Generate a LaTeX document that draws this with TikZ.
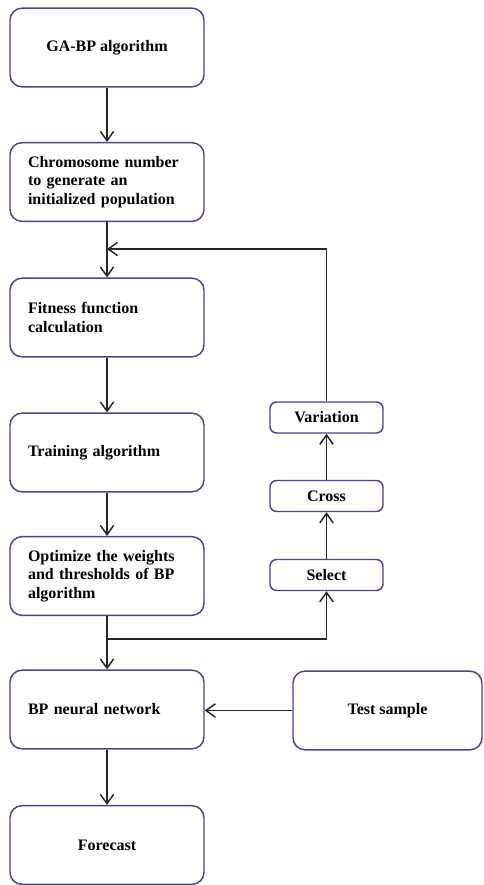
\documentclass[tikz,border=0pt]{standalone}
\usepackage{fontspec}
\setmainfont{Liberation Serif}
\usetikzlibrary{arrows.meta}
\definecolor{boxline}{RGB}{72,70,140}
\begin{document}
\begin{tikzpicture}[x=0.75pt, y=-0.75pt,
  flowbox/.style={draw=boxline, line width=1.1pt, rounded corners=9pt, fill=white,
    minimum width=145.5pt, minimum height=59pt, inner xsep=13.5pt,
    font=\fontsize{12}{13.7}\selectfont\bfseries},
  leftbox/.style={flowbox, text width=118.5pt, align=left},
  gabox/.style={draw=boxline, line width=1.1pt, rounded corners=5pt, fill=white,
    minimum width=84.75pt, minimum height=23.25pt,
    font=\fontsize{12}{13.7}\selectfont\bfseries},
  link/.style={line width=1.1pt, draw=black!85, -{Straight Barb[length=7pt, width=10pt]}}]
\useasboundingbox (0,0) rectangle (483,885);
\node[flowbox, align=center] (gabp) at (107,47.5) {GA-BP algorithm};
\node[leftbox] (chrom) at (107,182) {Chromosome number\\to generate an\\initialized population};
\node[leftbox] (fit) at (107,317.5) {Fitness function\\calculation};
\node[leftbox] (train) at (107,452.5) {Training algorithm};
\node[leftbox] (opt) at (107,576) {Optimize the weights\\and thresholds of BP\\algorithm};
\node[leftbox] (bpnet) at (107,709.5) {BP neural network};
\node[flowbox, align=center] (fore) at (107,845) {Forecast};
\node[flowbox, align=center, minimum width=141.75pt] (test) at (387.5,710.5) {Test sample};
\node[gabox] (var) at (326.5,417.5) {Variation};
\node[gabox] (cross) at (326.5,496) {Cross};
\node[gabox] (sel) at (326.5,575) {Select};
\coordinate (merge) at (107,249);
\coordinate (split) at (107,639);
\draw[link] (gabp) -- (chrom);
\draw[link] (chrom) -- (fit);
\draw[link] (fit) -- (train);
\draw[link] (train) -- (opt);
\draw[link] (opt) -- (bpnet);
\draw[link] (bpnet) -- (fore);
\draw[link] (test.west) -- (test.west -| bpnet.east);
\draw[link] (split) -| (sel);
\draw[link] (sel) -- (cross);
\draw[link] (cross) -- (var);
\draw[link] (var) |- (merge);
\end{tikzpicture}
\end{document}
